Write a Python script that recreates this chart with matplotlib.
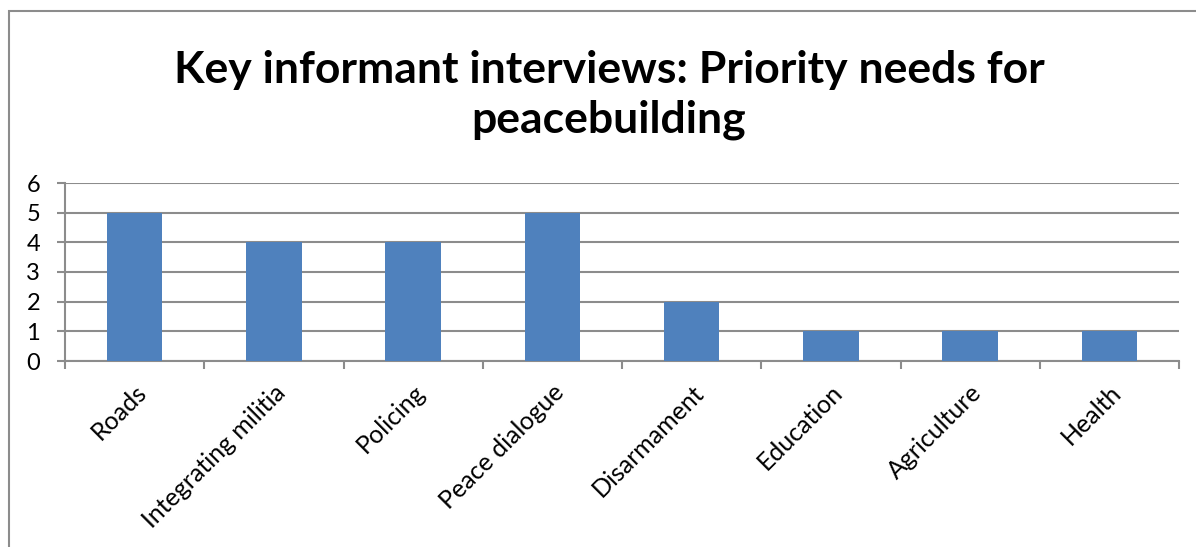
import matplotlib.pyplot as plt
from matplotlib.patches import Rectangle

categories = ['Roads', 'Integrating militia', 'Policing', 'Peace dialogue',
              'Disarmament', 'Education', 'Agriculture', 'Health']
values = [5, 4, 4, 5, 2, 1, 1, 1]
yticks = [0, 1, 2, 3, 4, 5, 6]
title = 'Key informant interviews: Priority needs for\npeacebuilding'

plt.rcParams['font.family'] = ['Lato', 'DejaVu Sans']
grid_col = '#8c8c8c'

fig = plt.figure(figsize=(11.96, 5.47), dpi=100)
ax = fig.add_axes([65 / 1196, 1 - 361 / 547, (1179 - 65) / 1196, (361 - 183) / 547])

# chart frame (only top and left edges fall inside the image)
fig.patches.append(Rectangle((9 / 1196, -0.1), 1.2, 1 - 11 / 547 + 0.1,
                             transform=fig.transFigure, fill=False,
                             edgecolor='#8c8c8c', linewidth=1.5))

x = range(len(categories))
ax.bar(x, values, width=0.4, color='#4F81BD', zorder=3)

ax.set_xlim(-0.5, len(categories) - 0.5)
ax.set_ylim(0, 6)
ax.set_yticks(yticks)
ax.yaxis.grid(True, color=grid_col, linewidth=1.5, zorder=0)
for s in ['top', 'right']:
    ax.spines[s].set_visible(False)
for s in ['left', 'bottom']:
    ax.spines[s].set_color(grid_col)
    ax.spines[s].set_linewidth(1.5)

ax.tick_params(axis='y', length=6, width=1.5, color=grid_col, pad=12, labelsize=17)
ax.set_xticks([i - 0.5 for i in range(len(categories) + 1)], minor=False)
ax.set_xticklabels([])
ax.tick_params(axis='x', length=6, width=1.5, color=grid_col)
ax.set_xticks(list(x), minor=True)
ax.set_xticklabels(categories, minor=True, rotation=45, ha='right', va='top',
                   rotation_mode='anchor', fontsize=18)
ax.tick_params(axis='x', which='minor', length=0, pad=14)

fig.text(609 / 1196, 1 - 95 / 547, title, ha='center', va='center',
         fontsize=32, fontweight='bold', linespacing=1.3)

fig.savefig('out.png', dpi=100)
